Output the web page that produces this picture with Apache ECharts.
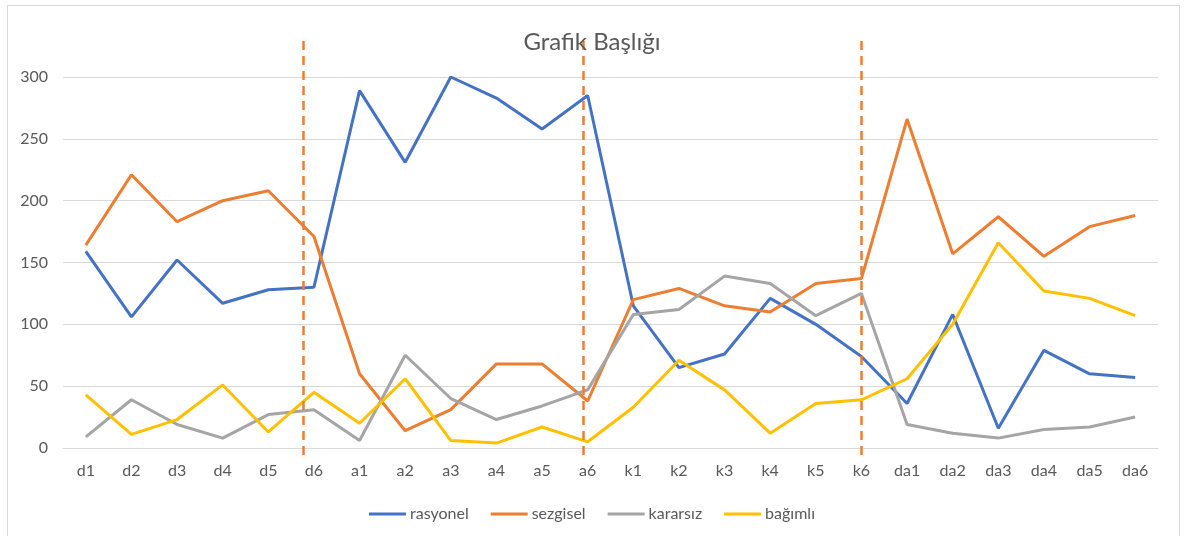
<!DOCTYPE html>
<html>
<head>
    <meta charset="utf-8">
    <title>Grafik Başlığı</title>
    <script src="https://cdn.jsdelivr.net/npm/echarts@6/dist/echarts.min.js"></script>
    <style>
        body { margin: 0; background: #fff; }
        #chart { width: 1184px; height: 536px; }
        /* çerçeve */
        #frame { position: absolute; left: 7px; top: 5px; width: 1171px; height: 540px;
                 border: 1px solid #d9d9d9; pointer-events: none; }
    </style>
</head>
<body>
<div id="chart"></div>
<div id="frame"></div>
<script type="text/javascript">
    var kategoriler = ['d1','d2','d3','d4','d5','d6','a1','a2','a3','a4','a5','a6',
                       'k1','k2','k3','k4','k5','k6','da1','da2','da3','da4','da5','da6'];
    var rasyonel = [159,106,152,117,128,130, 289,231,300,283,258,285, 115,65,76,121,100,74, 36,108,16,79,60,57];
    var sezgisel = [164,221,183,200,208,171, 60,14,31,68,68,38, 120,129,115,110,133,137, 266,157,187,155,179,188];
    var kararsiz = [9,39,19,8,27,31, 6,75,40,23,34,47, 108,112,139,133,107,125, 19,12,8,15,17,25];
    var bagimli  = [43,11,23,51,13,45, 20,56,6,4,17,5, 33,71,47,12,36,39, 56,100,166,127,121,107];
    // ayraç çizgileri (kategori indeksine göre)
    var ayraclar = [4.76, 10.9, 17];

    var myChart = echarts.init(document.getElementById('chart'));
    var yaziRengi = '#595959';
    var font = 'Lato, "Noto Sans", sans-serif';

    function seri(ad, veri, renk) {
        return {
            name: ad,
            type: 'line',
            data: veri,
            symbol: 'none',
            lineStyle: { color: renk, width: 3 },
            itemStyle: { color: renk },
            z: 3
        };
    }

    myChart.setOption({
        animation: false,
        textStyle: { fontFamily: font },
        title: {
            text: 'Grafik Başlığı',
            left: 'center',
            top: 25,
            textStyle: { color: yaziRengi, fontSize: 24, fontWeight: 'normal', fontFamily: font }
        },
        legend: {
            data: ['rasyonel', 'sezgisel', 'kararsız', 'bağımlı'],
            top: 501,
            left: 'center',
            icon: 'rect',
            itemWidth: 37,
            itemHeight: 3,
            itemGap: 22,
            textStyle: { color: yaziRengi, fontSize: 16, fontFamily: font, padding: [0, 0, 0, -1] }
        },
        grid: [
            { left: 63, right: 26, top: 77, bottom: 88 },
            { left: 63, right: 26, top: 38, bottom: 81 }
        ],
        xAxis: [
            {
                type: 'category',
                data: kategoriler,
                gridIndex: 0,
                boundaryGap: true,
                axisLine: { lineStyle: { color: '#d9d9d9', width: 1 } },
                axisTick: { show: false },
                axisLabel: { color: yaziRengi, fontSize: 16, margin: 15, fontFamily: font }
            },
            {
                type: 'value',
                gridIndex: 1,
                min: -0.5,
                max: 23.5,
                show: false
            }
        ],
        yAxis: [
            {
                type: 'value',
                gridIndex: 0,
                min: 0,
                max: 300,
                interval: 50,
                axisLine: { show: false },
                axisTick: { show: false },
                axisLabel: { color: yaziRengi, fontSize: 16, margin: 15, fontFamily: font },
                splitLine: { lineStyle: { color: '#d9d9d9', width: 1 } }
            },
            {
                type: 'value',
                gridIndex: 1,
                min: 0,
                max: 1,
                show: false
            }
        ],
        series: [
            seri('rasyonel', rasyonel, '#4472C4'),
            seri('sezgisel', sezgisel, '#ED7D31'),
            seri('kararsız', kararsiz, '#A5A5A5'),
            seri('bağımlı', bagimli, '#FFC000'),
            {
                name: 'ayraç',
                type: 'line',
                xAxisIndex: 1,
                yAxisIndex: 1,
                data: [],
                z: 2,
                markLine: {
                    silent: true,
                    symbol: ['none', 'none'],
                    label: { show: false },
                    lineStyle: { color: '#ED7D31', width: 2.5, type: [9, 6] },
                    data: ayraclar.map(function (x) {
                        return [{ coord: [x, 0] }, { coord: [x, 1] }];
                    })
                }
            }
        ]
    });
</script>
</body>
</html>
